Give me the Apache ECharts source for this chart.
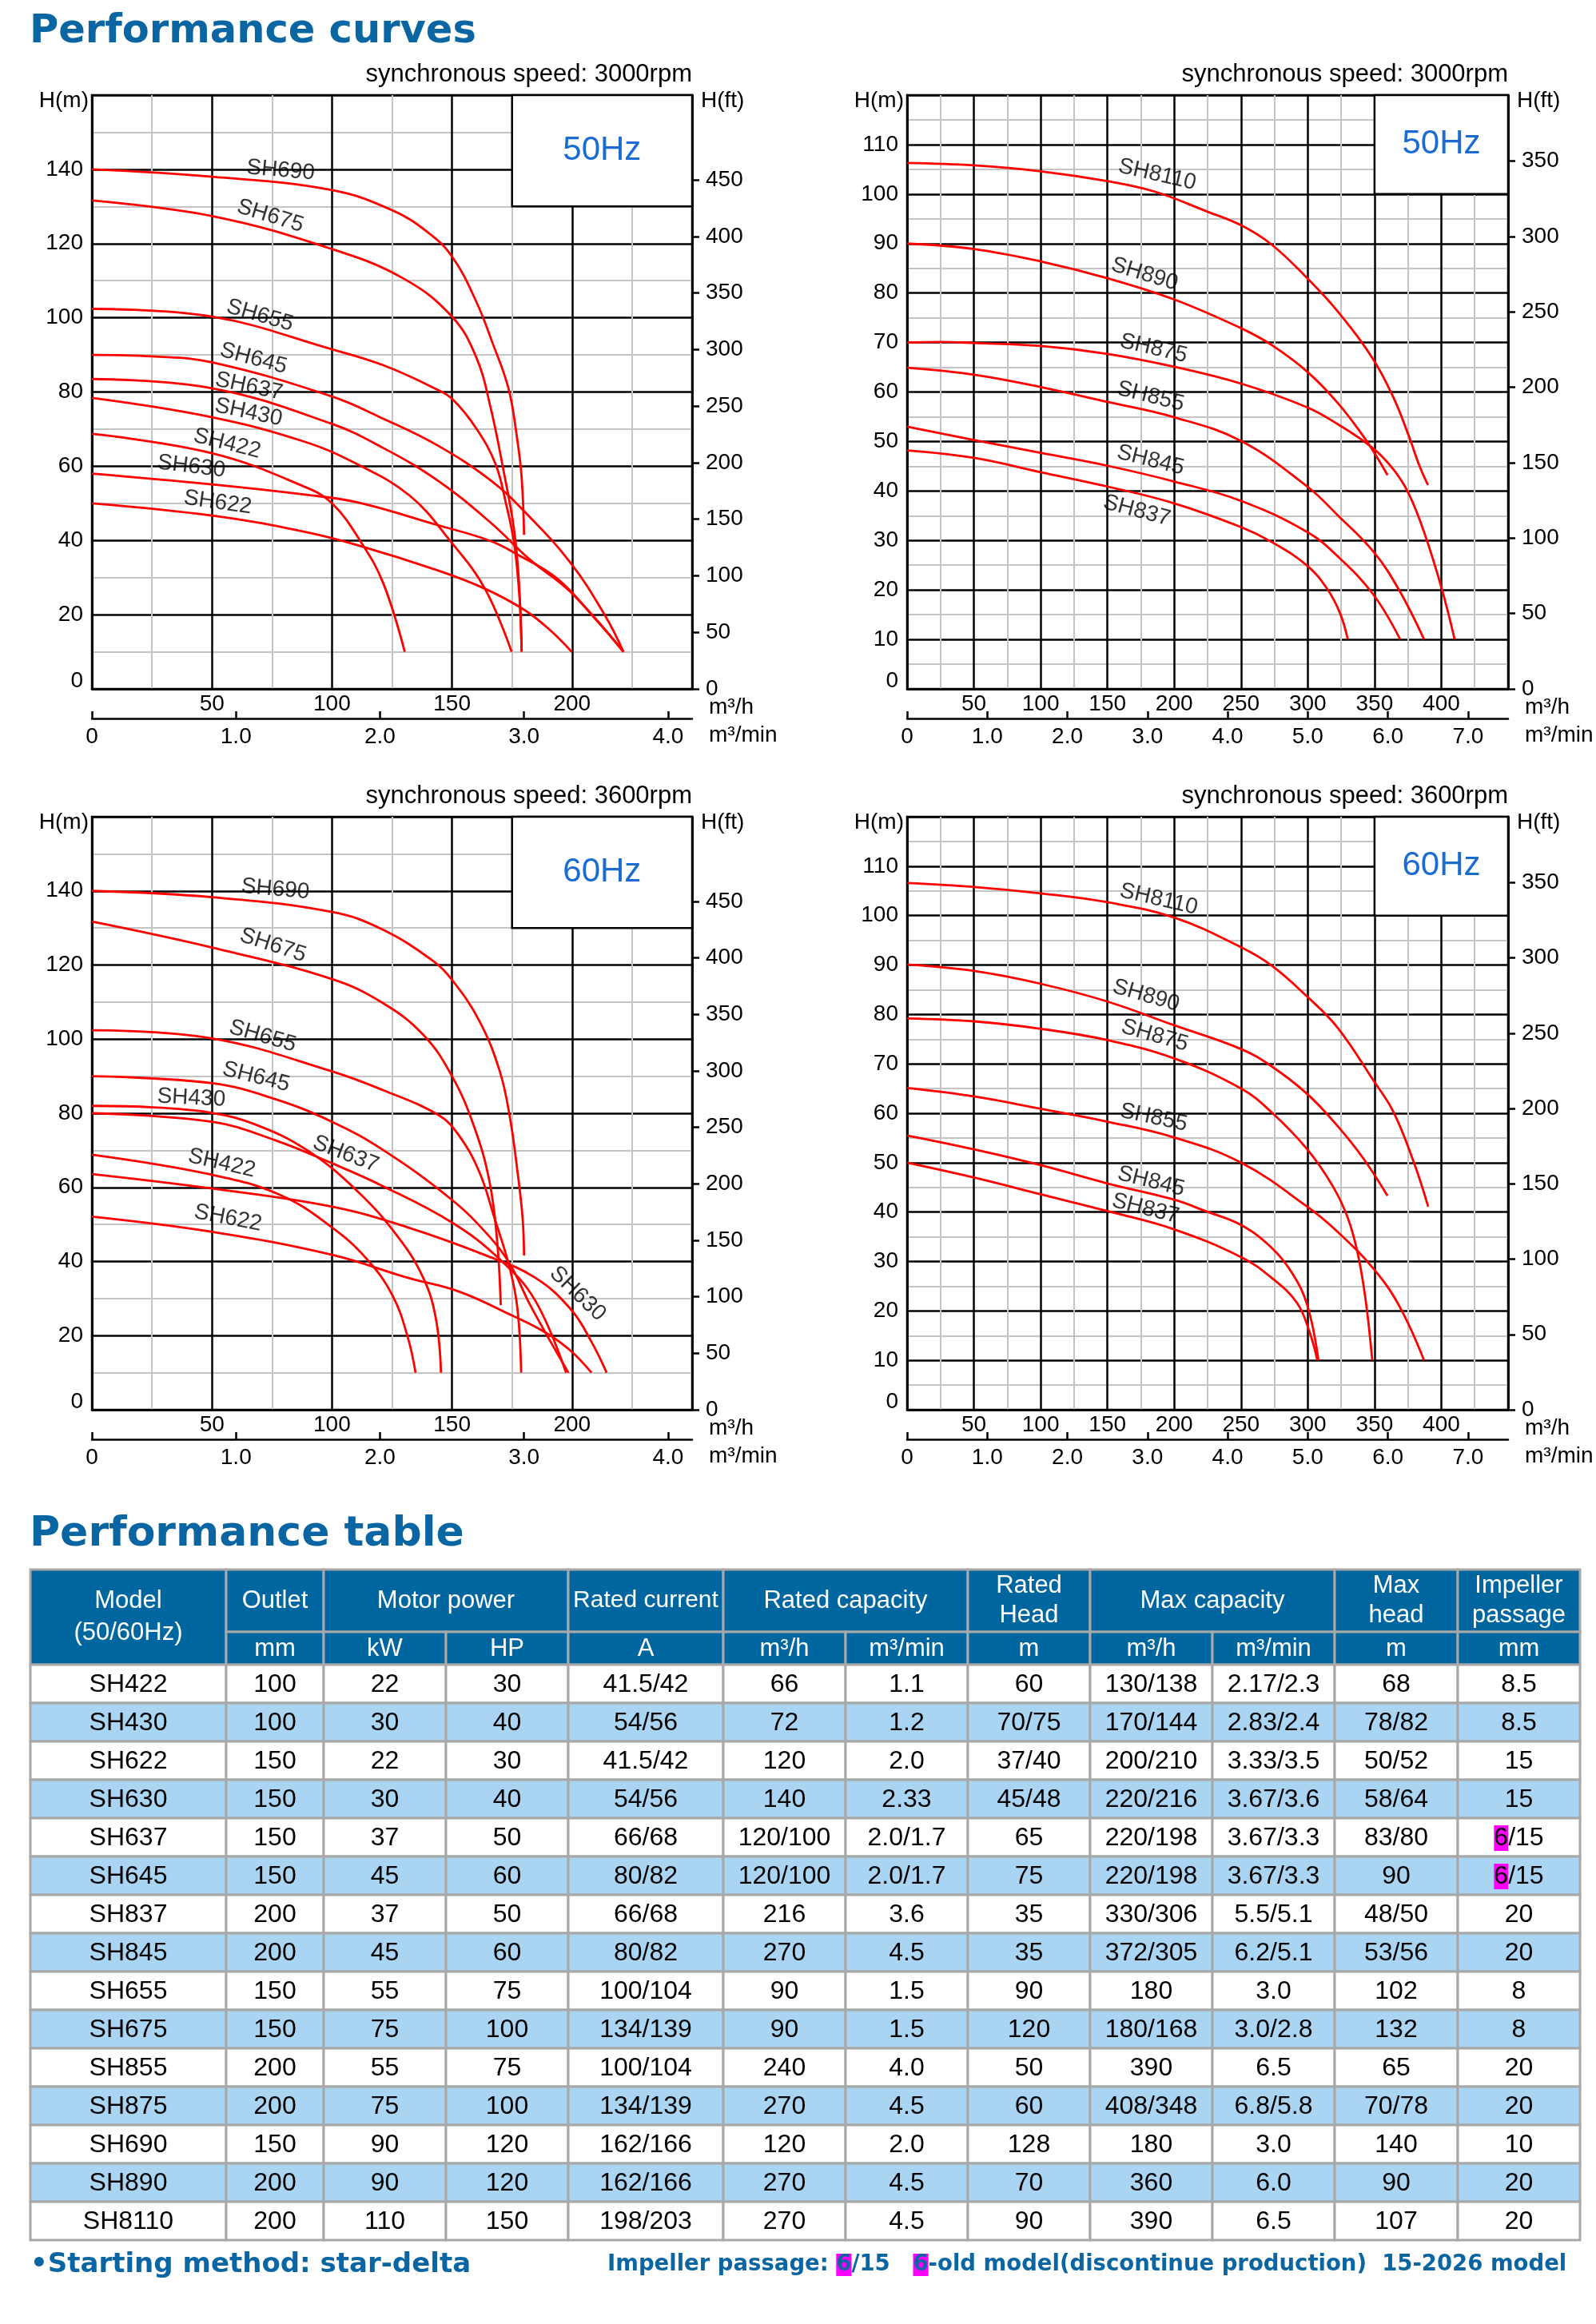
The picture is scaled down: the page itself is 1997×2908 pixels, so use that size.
<!DOCTYPE html>
<html>
<head>
<meta charset="utf-8">
<title>Performance curves</title>
<script src="https://cdn.jsdelivr.net/npm/echarts@6.0.0/dist/echarts.min.js"></script>
<style>
html, body { margin: 0; padding: 0; background: #fff; }
#main { width: 1997px; height: 2908px; }
</style>
</head>
<body>
<div id="main"></div>
<script>
// ---------- curve data, [Q m3/h, H m] ----------
// 50Hz, 3000rpm, SH6xx / SH4xx
var sh690A = [[0,140],[50,138],[100,134.4],[125,129],[140,123],[150,116.5],[160,104.5],[167,93],[173.5,81],[177,68],[179,57],[180,41.5]];
var sh675A = [[0,131.6],[50,127.4],[100,118.5],[130,110.5],[150,100.3],[160,89.5],[166,76],[171.4,59],[175.9,42.7],[177.9,28.4],[179,10]];
var sh655A = [[0,102.4],[50,100.3],[100,91.5],[121.4,87.2],[143.7,80.7],[150.3,78],[160.3,70],[168.1,60.6],[172.5,49.9],[175.9,39.1],[178.1,24.8],[179,10]];
var sh645A = [[0,90],[25,89.6],[50,88],[100,78.8],[121.4,72.8],[143.7,65.7],[165.9,56.3],[180.3,47.7],[199.2,34.1],[213.7,19.8],[221.4,10]];
var sh637A = [[0,83.5],[50,81],[100,71.4],[121.4,64.9],[143.7,56.3],[165.9,44.9],[182.5,34.8],[199.2,26.2],[221.4,10]];
var sh430A = [[0,78.4],[50,73.2],[88.1,66.7],[110.3,60.6],[132.5,52],[149.2,39.9],[163.7,27],[174.8,10]];
var sh422A = [[0,68.7],[50,63.5],[88.1,54.6],[100,50],[112.5,39.1],[121.4,28.4],[130.3,10]];
var sh630A = [[0,58],[50,55.1],[88.1,52.4],[110.3,50.3],[143.7,44.2],[165.9,39.9],[177,36.3],[193.7,29.8],[210.3,18.4],[221.4,10]];
var sh622A = [[0,50],[50,46.7],[88.1,42.4],[110.3,38.8],[143.7,32],[163.7,27],[180.3,21.2],[191.4,15.5],[199.8,10]];

// 50Hz, 3000rpm, SH8xx
var sh8110A = [[0,106.3],[50,105.8],[100,104.6],[150,102.6],[185.4,100.5],[223.4,96.6],[250,93.7],[272.9,89.8],[299.6,83],[322.4,76.3],[349,66.6],[364.3,58.8],[375.7,51.1],[383.3,45.3],[390,41.2]];
var sh890A = [[0,90],[50,88.9],[100,86.4],[150,83],[200,78.7],[250,72.9],[272.9,69.5],[299.6,64.1],[322.4,57.8],[341.5,51.1],[351,47.2],[359.7,43.2]];
var sh875A = [[0,70],[25,70.1],[50,69.9],[100,69.3],[150,67.7],[200,65.1],[250,61.7],[299.6,56.9],[322.4,53.5],[349,48.6],[364.3,44.3],[375.7,39.4],[387.1,31.7],[400.5,20.1],[410,10]];
var sh855A = [[0,64.9],[50,63.5],[100,61],[150,58],[200,54.9],[250,50.1],[299.6,40.9],[322.4,35.1],[349,27.8],[368.1,20.1],[387.1,10]];
var sh845A = [[0,53],[50,50.3],[100,47.7],[150,45.1],[200,41.9],[250,38],[299.6,31.7],[322.4,26.8],[349,19.1],[369.2,10]];
var sh837A = [[0,48.2],[50,46.7],[100,43.8],[150,40.9],[200,37.5],[250,32.7],[272.9,29.7],[299.6,24.9],[314.8,20.1],[324.3,15.2],[330,10]];

// 60Hz, 3600rpm, SH6xx / SH4xx
var sh690B = [[0,140],[50,138.3],[100,134.3],[121,129.6],[142.3,121],[150,116],[161.4,104.9],[169.9,91.3],[174.1,78.9],[177.3,64.1],[179.4,51.7],[180,41.6]];
var sh675B = [[0,131.7],[50,124.7],[100,116.2],[121,109.8],[138,101.2],[150,90],[159.2,76.4],[165.6,61.6],[168.8,45.5],[170.3,28.2]];
var sh655B = [[0,102.4],[50,100.2],[100,91.3],[121,86.3],[144.4,79.5],[152.9,74],[161.4,64.1],[167.7,51.7],[174.1,38.1],[177.3,27],[178.8,10]];
var sh645B = [[0,90],[50,88.1],[76.4,83.8],[100,77.7],[121,70.2],[150,56.6],[165.6,46.7],[174.1,39.3],[182.6,28.2],[191.1,18.3],[198.5,10]];
var sh637B = [[0,80],[50,77.7],[76.4,72.7],[100,66.5],[121,60.4],[150,50.5],[169.9,40.6],[184.7,29.4],[197.5,10]];
var sh430B = [[0,82],[25.5,81.6],[50,80.1],[67.9,77],[89.2,70.2],[110.4,59.1],[127.4,46.7],[138,35.6],[143.3,24.5],[145.4,10]];
var sh422B = [[0,68.8],[50,63.4],[78.6,57.9],[100,49.2],[114.6,40.6],[125.3,30.7],[131.6,19.5],[134.8,10]];
var sh630B = [[0,63.6],[50,59.7],[100,54.8],[131.6,49.2],[163.5,41.8],[184.7,35.6],[199.6,27],[208.1,18.3],[214.4,10]];
var sh622B = [[0,52.1],[50,48],[100,41.8],[131.6,35.6],[152.9,31.9],[174.1,25.7],[189,20.8],[199.6,15.8],[208.1,10]];

// 60Hz, 3600rpm, SH8xx
var sh8110B = [[0,106.6],[50,105.8],[100,104.5],[150,102.7],[200,99.6],[250,93.6],[272.9,89.9],[299.6,83.6],[322.4,77.3],[349,66.7],[364.3,60.2],[379.5,50],[390.2,41.1]];
var sh890B = [[0,90.1],[50,88.8],[100,86.2],[150,82.6],[200,77.8],[250,73],[272.9,69.5],[299.6,63.9],[322.4,57.4],[341.5,50.9],[359.7,43.3]];
var sh875B = [[0,79.2],[50,78.6],[100,77.1],[150,74.8],[200,71.1],[250,65],[272.9,60.2],[299.6,52.7],[318.6,45.3],[330,38.8],[337.6,31.4],[343.4,22.1],[348.3,10]];
var sh855B = [[0,65.1],[50,63.4],[100,60.9],[150,58.3],[200,55.1],[250,50],[299.6,41.1],[322.4,36],[349,28.6],[368.1,21.2],[387.1,10]];
var sh845B = [[0,55.5],[50,52.7],[100,49.5],[150,45.8],[200,42.5],[223.4,40.2],[250,37.4],[272.9,32.8],[288.2,27.7],[299.6,21.2],[308,10]];
var sh837B = [[0,50],[50,47],[100,43.6],[150,40.2],[200,36.5],[250,30.9],[272.9,26.7],[292,21.6],[301.5,15.6],[307.2,10]];

// curve name labels: [text, Q, H, rotate]
var labelsTL = [['SH690',78.6,139.7,-5],['SH675',74.3,127.4,-17],['SH655',70,100.6,-16],['SH645',67.3,89,-15],['SH637',65.4,81.5,-12],['SH430',65.2,74.5,-12],['SH422',56.3,66.1,-14],['SH630',41.4,59.9,-7],['SH622',52.4,50.2,-8]];
var labelsTR = [['SH8110',187.3,103.9,-13],['SH890',177.8,83.8,-17],['SH875',184.6,68.8,-13],['SH855',182.3,59.1,-14],['SH845',182.3,46.2,-14],['SH837',172,36,-15]];
var labelsBL = [['SH690',76.4,140.4,-5],['SH675',75.4,125.3,-18],['SH655',71.1,100.8,-16],['SH645',68.4,89.8,-14],['SH430',41.4,84.1,-3],['SH637',105.7,69,-21],['SH422',54.1,66.5,-13],['SH622',56.7,51.7,-11],['SH630',202.3,31.3,-44]];
var labelsBR = [['SH8110',188.4,103.3,-13],['SH890',178.9,83.8,-16],['SH875',185.4,75.7,-16],['SH855',184.6,59.1,-12],['SH845',182.7,46.2,-14],['SH837',178.5,40.7,-14]];

// frequency box corner [Q from, H from] up to the top right corner
var boxSmall = [175, 130];
var boxBig = [350, 100];

// tick labels
var ftTicksSmall = [0,50,100,150,200,250,300,350,400,450];
var ftTicksBig = [0,50,100,150,200,250,300,350];
var minTicksSmall = [0,1,2,3,4];
var minTicksBig = [0,1,2,3,4,5,6,7];

// ---------- table data ----------
var models = ['SH422','SH430','SH622','SH630','SH637','SH645','SH837','SH845','SH655','SH675','SH855','SH875','SH690','SH890','SH8110'];
var outletMm = ['100','100','150','150','150','150','200','200','150','150','200','200','150','200','200'];
var powerKw = ['22','30','22','30','37','45','37','45','55','75','55','75','90','90','110'];
var powerHp = ['30','40','30','40','50','60','50','60','75','100','75','100','120','120','150'];
var ratedAmp = ['41.5/42','54/56','41.5/42','54/56','66/68','80/82','66/68','80/82','100/104','134/139','100/104','134/139','162/166','162/166','198/203'];
var ratedQh = ['66','72','120','140','120/100','120/100','216','270','90','90','240','270','120','270','270'];
var ratedQmin = ['1.1','1.2','2.0','2.33','2.0/1.7','2.0/1.7','3.6','4.5','1.5','1.5','4.0','4.5','2.0','4.5','4.5'];
var ratedHead = ['60','70/75','37/40','45/48','65','75','35','35','90','120','50','60','128','70','90'];
var maxQh = ['130/138','170/144','200/210','220/216','220/198','220/198','330/306','372/305','180','180/168','390','408/348','180','360','390'];
var maxQmin = ['2.17/2.3','2.83/2.4','3.33/3.5','3.67/3.6','3.67/3.3','3.67/3.3','5.5/5.1','6.2/5.1','3.0','3.0/2.8','6.5','6.8/5.8','3.0','6.0','6.5'];
var maxHead = ['68','78/82','50/52','58/64','83/80','90','48/50','53/56','102','132','65','70/78','140','90','107'];
var passageMm = ['8.5','8.5','15','15','6/15','6/15','20','20','8','8','20','20','10','20','20'];

var headTop = ['Model\n(50/60Hz)','Outlet','Motor power','Rated current','Rated capacity','Rated\nHead','Max capacity','Max\nhead','Impeller\npassage'];
var headSub = ['mm','kW','HP','A','m³/h','m³/min','m','m³/h','m³/min','m','mm'];

// ---------- styles ----------
var SANS = '"Liberation Sans", Arial, Helvetica, sans-serif';
var HEAVY = '"DejaVu Sans", "Liberation Sans", sans-serif';
var TITLE_BLUE = '#0a65a3';
var HEAD_BLUE = '#00669f';
var ROW_BLUE = '#a9d4f2';
var CELL_LINE = '#a8a8a8';
var HZ_BLUE = '#1a6cd2';
var M2FT = 3.28084;

var plots = [
    {left:115, top:119, width:751, height:743, qMax:250, hMax:160, hStep:20, ft:ftTicksSmall, mins:minTicksSmall, box:boxSmall, hz:'50Hz', speed:'synchronous speed: 3000rpm',
     curves:[['SH690',sh690A],['SH675',sh675A],['SH655',sh655A],['SH645',sh645A],['SH637',sh637A],['SH430',sh430A],['SH422',sh422A],['SH630',sh630A],['SH622',sh622A]], labels:labelsTL},
    {left:1135, top:119, width:752, height:743, qMax:450, hMax:120, hStep:10, ft:ftTicksBig, mins:minTicksBig, box:boxBig, hz:'50Hz', speed:'synchronous speed: 3000rpm',
     curves:[['SH8110',sh8110A],['SH890',sh890A],['SH875',sh875A],['SH855',sh855A],['SH845',sh845A],['SH837',sh837A]], labels:labelsTR},
    {left:115, top:1022, width:751, height:742, qMax:250, hMax:160, hStep:20, ft:ftTicksSmall, mins:minTicksSmall, box:boxSmall, hz:'60Hz', speed:'synchronous speed: 3600rpm',
     curves:[['SH690',sh690B],['SH675',sh675B],['SH655',sh655B],['SH645',sh645B],['SH637',sh637B],['SH430',sh430B],['SH422',sh422B],['SH630',sh630B],['SH622',sh622B]], labels:labelsBL},
    {left:1135, top:1022, width:752, height:742, qMax:450, hMax:120, hStep:10, ft:ftTicksBig, mins:minTicksBig, box:boxBig, hz:'60Hz', speed:'synchronous speed: 3600rpm',
     curves:[['SH8110',sh8110B],['SH890',sh890B],['SH875',sh875B],['SH855',sh855B],['SH845',sh845B],['SH837',sh837B]], labels:labelsBR}
];

function txt(x, y, s, o) {
    o = o || {};
    var st = {text:s, fontSize:28, fontFamily:SANS, fill:'#000', align:'left', verticalAlign:'middle'};
    for (var k in o) st[k] = o[k];
    st.textAlign = st.align;
    st.textVerticalAlign = st.verticalAlign;
    return {type:'text', x:x, y:y, silent:true, z:10, style:st};
}

var grids = [], xAxes = [], yAxes = [], series = [], graphics = [];
var blackLine = {color:'#000', width:2.5};
var grayLine = {color:'#c4c4c4', width:2};
var axisFont = {fontSize:28, color:'#000', fontFamily:SANS};

plots.forEach(function (p, i) {
    grids.push({left:p.left, top:p.top, width:p.width, height:p.height, show:true,
        borderColor:'#000', borderWidth:2.5, backgroundColor:'rgba(0,0,0,0)'});

    // m3/h
    xAxes.push({gridIndex:i, type:'value', min:0, max:p.qMax, interval:50, position:'bottom',
        axisLine:{show:true, onZero:false, lineStyle:blackLine}, axisTick:{show:false},
        axisLabel:Object.assign({margin:5, showMinLabel:false, showMaxLabel:false}, axisFont),
        splitLine:{show:true, lineStyle:blackLine},
        minorTick:{show:false, splitNumber:2}, minorSplitLine:{show:true, lineStyle:grayLine}});
    // m3/min
    xAxes.push({gridIndex:i, type:'value', min:0, max:p.qMax / 60, interval:1, position:'bottom', offset:37,
        axisLine:{show:true, onZero:false, lineStyle:blackLine},
        axisTick:{show:true, inside:true, length:9, lineStyle:blackLine, customValues:p.mins},
        axisLabel:Object.assign({margin:9, customValues:p.mins,
            formatter:function (v) { return v === 0 ? '0' : v.toFixed(1); }}, axisFont),
        splitLine:{show:false}});
    // H(m)
    yAxes.push({gridIndex:i, type:'value', min:0, max:p.hMax, interval:p.hStep, position:'left',
        axisLine:{show:true, onZero:false, lineStyle:blackLine}, axisTick:{show:false},
        axisLabel:Object.assign({margin:11, showMaxLabel:false,
            formatter:function (v) { return v === 0 ? '{z|0}' : String(v); },
            rich:{z:{fontSize:28, fontFamily:SANS, color:'#000', padding:[0,0,20,0]}}}, axisFont),
        splitLine:{show:true, lineStyle:blackLine},
        minorTick:{show:false, splitNumber:2}, minorSplitLine:{show:true, lineStyle:grayLine}});
    // H(ft)
    var ftMax = p.hMax * M2FT, ftTop = p.ft[p.ft.length - 1];
    yAxes.push({gridIndex:i, type:'value', min:0, max:ftMax, interval:50, position:'right',
        axisLine:{show:true, onZero:false, lineStyle:blackLine},
        axisTick:{show:true, length:9, lineStyle:blackLine, customValues:p.ft},
        axisLabel:Object.assign({margin:17, customValues:p.ft,
            formatter:function (v) { return v > ftTop ? '' : String(v); }}, axisFont),
        splitLine:{show:false}});

    p.curves.forEach(function (c) {
        series.push({type:'line', name:c[0], xAxisIndex:2 * i, yAxisIndex:2 * i, data:c[1],
            smooth:0.4, symbol:'none', silent:true, z:3,
            lineStyle:{color:'#ff0000', width:2.8}});
    });

    series.push({type:'scatter', name:'labels' + i, xAxisIndex:2 * i, yAxisIndex:2 * i, silent:true, z:4,
        symbolSize:1, itemStyle:{color:'rgba(0,0,0,0)'},
        label:{show:true, position:'inside', formatter:'{b}', fontSize:28, color:'#000', fontFamily:SANS},
        data:p.labels.map(function (l) {
            return {name:l[0], value:[l[1], l[2]], label:{rotate:l[3]}};
        }),
        markArea:{silent:true,
            itemStyle:{color:'#fff', borderColor:'#000', borderWidth:2.5},
            label:{show:true, position:'inside', fontSize:42, color:HZ_BLUE, fontFamily:SANS},
            data:[[{name:p.hz, coord:[p.box[0], p.hMax]}, {coord:[p.qMax, p.box[1]]}]]}
    });

    var r = p.left + p.width, b = p.top + p.height;
    graphics.push(txt(r, p.top - 26, p.speed, {align:'right', fontSize:31}));
    graphics.push(txt(p.left - 4, p.top + 7, 'H(m)', {align:'right'}));
    graphics.push(txt(r + 11, p.top + 7, 'H(ft)'));
    graphics.push(txt(r + 21, b + 23, 'm³/h'));
    graphics.push(txt(r + 21, b + 58, 'm³/min'));
});

// titles
graphics.push(txt(37, 40, 'Performance curves', {fontSize:49.5, fontWeight:'bold', fontFamily:HEAVY, fill:TITLE_BLUE}));
graphics.push(txt(37, 1920, 'Performance table', {fontSize:52, fontWeight:'bold', fontFamily:HEAVY, fill:TITLE_BLUE}));

// ---------- table ----------
var colX = [38, 283, 405, 558, 711, 905, 1058, 1211, 1364, 1517, 1670, 1824, 1977];
var tTop = 1964, h1 = 78, h2 = 41, rowH = 48;
var topSpans = [[0,1],[1,2],[2,4],[4,5],[5,7],[7,8],[8,10],[10,11],[11,12]];

function cell(x0, x1, y0, y1, fill) {
    return {type:'rect', silent:true, z:5, shape:{x:x0, y:y0, width:x1 - x0, height:y1 - y0},
        style:{fill:fill, stroke:CELL_LINE, lineWidth:3}};
}

topSpans.forEach(function (s, k) {
    var x0 = colX[s[0]], x1 = colX[s[1]];
    var y1 = k === 0 ? tTop + h1 + h2 : tTop + h1;
    graphics.push(cell(x0, x1, tTop, y1, HEAD_BLUE));
    var label = headTop[k];
    graphics.push(txt((x0 + x1) / 2, (tTop + y1) / 2, label, {align:'center', fill:'#fff',
        fontSize:label === 'Rated current' ? 30 : 31, lineHeight:k === 0 ? 40 : 37}));
});
headSub.forEach(function (s, k) {
    var x0 = colX[k + 1], x1 = colX[k + 2];
    graphics.push(cell(x0, x1, tTop + h1, tTop + h1 + h2, HEAD_BLUE));
    graphics.push(txt((x0 + x1) / 2, tTop + h1 + h2 / 2 + 1, s, {align:'center', fill:'#fff', fontSize:31}));
});

var columns = [models, outletMm, powerKw, powerHp, ratedAmp, ratedQh, ratedQmin, ratedHead, maxQh, maxQmin, maxHead, passageMm];
var bodyTop = tTop + h1 + h2;
models.forEach(function (m, r) {
    var y0 = bodyTop + r * rowH, y1 = y0 + rowH;
    var fill = r % 2 === 0 ? '#ffffff' : ROW_BLUE;
    columns.forEach(function (col, c) {
        var x0 = colX[c], x1 = colX[c + 1];
        graphics.push(cell(x0, x1, y0, y1, fill));
        var v = col[r];
        var opts = {align:'center', fontSize:32};
        if (c === 11 && v.indexOf('6/') === 0) {
            v = '{hl|6}' + v.slice(1);
            opts.rich = {hl:{backgroundColor:'#ff00ff', fontSize:32, fontFamily:SANS, fill:'#000'}};
        }
        graphics.push(txt((x0 + x1) / 2, (y0 + y1) / 2 + 1, v, opts));
    });
});

// ---------- footer ----------
graphics.push(txt(38, 2834, '•Starting method: star-delta', {fontSize:34, fontWeight:'bold', fontFamily:HEAVY, fill:TITLE_BLUE}));
graphics.push(txt(760, 2834, 'Impeller passage: {hl|6}/15   {hl|6}-old model(discontinue production)  15-2026 model',
    {fontSize:27.5, fontWeight:'bold', fontFamily:HEAVY, fill:TITLE_BLUE,
     rich:{hl:{backgroundColor:'#ff00ff', fontSize:27.5, fontWeight:'bold', fontFamily:HEAVY, fill:TITLE_BLUE}}}));

var chart = echarts.init(document.getElementById('main'));
chart.setOption({
    animation:false,
    backgroundColor:'#ffffff',
    grid:grids,
    xAxis:xAxes,
    yAxis:yAxes,
    series:series,
    graphic:{elements:graphics}
});
</script>
</body>
</html>
